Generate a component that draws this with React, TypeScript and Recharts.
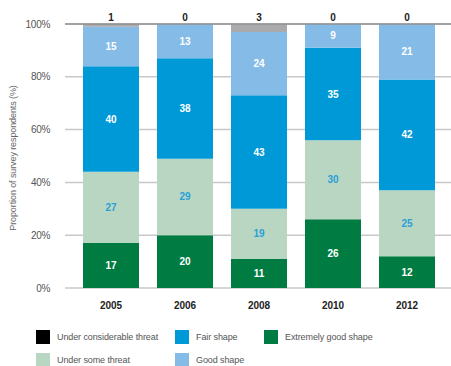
import React from "react";
import {
  BarChart,
  Bar,
  XAxis,
  YAxis,
  CartesianGrid,
  ReferenceLine,
  LabelList,
} from "recharts";

const years = ["2005", "2006", "2008", "2010", "2012"];
const extremelyGood = [17, 20, 11, 26, 12];
const someThreat = [27, 29, 19, 30, 25];
const fairShape = [40, 38, 43, 35, 42];
const goodShape = [15, 13, 24, 9, 21];
const considerableThreat = [1, 0, 3, 0, 0];
const yTicks = [0, 20, 40, 60, 80, 100];

const data = years.map((year, i) => ({
  year,
  extremelyGood: extremelyGood[i],
  someThreat: someThreat[i],
  fairShape: fairShape[i],
  goodShape: goodShape[i],
  considerableThreat: considerableThreat[i],
}));

const FONT = "'Liberation Sans', Arial, Helvetica, sans-serif";

const legendItems = [
  { label: "Under considerable threat", color: "#000000", left: 36, top: 330 },
  { label: "Fair shape", color: "#0099d8", left: 175, top: 330 },
  { label: "Extremely good shape", color: "#007c43", left: 264, top: 330 },
  { label: "Under some threat", color: "#b8d6c1", left: 36, top: 353 },
  { label: "Good shape", color: "#85bbe7", left: 175, top: 353 },
];

const segLabel = (fill: string) => ({
  fill,
  fontSize: 10,
  fontWeight: 700,
  fontFamily: FONT,
});

export default function App() {
  return (
    <div
      style={{
        position: "absolute",
        left: 0,
        top: 0,
        width: 451,
        height: 366,
        background: "#fff",
        overflow: "hidden",
        fontFamily: FONT,
      }}
    >
      <BarChart
        width={451}
        height={320}
        data={data}
        margin={{ top: 0, right: 0, bottom: 0, left: 0 }}
      >
        <CartesianGrid vertical={false} stroke="#c8c8c8" strokeWidth={1.5} />
        <XAxis
          dataKey="year"
          axisLine={false}
          tickLine={false}
          tickSize={0}
          tickMargin={14}
          height={32}
          padding={{ left: 9, right: 7 }}
          tick={{ fill: "#222", fontSize: 10, fontWeight: 700, fontFamily: FONT }}
        />
        {/* top axis carries the "under considerable threat" counts */}
        <XAxis
          xAxisId="top"
          orientation="top"
          dataKey="year"
          axisLine={false}
          tickLine={false}
          tickSize={0}
          tickMargin={3}
          height={24}
          padding={{ left: 9, right: 7 }}
          tickFormatter={(_v, i) => String(considerableThreat[i])}
          tick={{ fill: "#222", fontSize: 10, fontWeight: 700, fontFamily: FONT }}
        />
        <YAxis
          domain={[0, 100]}
          ticks={yTicks}
          width={65}
          axisLine={false}
          tickLine={false}
          tickSize={0}
          tickMargin={15}
          tickFormatter={(v) => `${v}%`}
          tick={{ fill: "#555", fontSize: 10, fontFamily: FONT, letterSpacing: -0.3 }}
        />
        <ReferenceLine y={100} stroke="#909090" strokeWidth={1.5} />
        <Bar dataKey="extremelyGood" stackId="a" fill="#007c43" barSize={56} isAnimationActive={false}>
          <LabelList dataKey="extremelyGood" position="center" style={segLabel("#ffffff")} />
        </Bar>
        <Bar dataKey="someThreat" stackId="a" fill="#b8d6c1" barSize={56} isAnimationActive={false}>
          <LabelList dataKey="someThreat" position="center" style={segLabel("#2a9fd8")} />
        </Bar>
        <Bar dataKey="fairShape" stackId="a" fill="#0099d8" barSize={56} isAnimationActive={false}>
          <LabelList dataKey="fairShape" position="center" style={segLabel("#ffffff")} />
        </Bar>
        <Bar dataKey="goodShape" stackId="a" fill="#85bbe7" barSize={56} isAnimationActive={false}>
          <LabelList dataKey="goodShape" position="center" style={segLabel("#ffffff")} />
        </Bar>
        <Bar dataKey="considerableThreat" stackId="a" fill="#aaaaac" barSize={56} isAnimationActive={false} />
      </BarChart>

      <div
        style={{
          position: "absolute",
          left: 13,
          top: 158,
          transform: "translate(-50%, -50%) rotate(-90deg)",
          whiteSpace: "nowrap",
          fontSize: 9,
          color: "#666",
          letterSpacing: -0.1,
        }}
      >
        Proportion of survey respondents (%)
      </div>

      {legendItems.map((item) => (
        <div
          key={item.label}
          style={{
            position: "absolute",
            left: item.left,
            top: item.top,
            display: "flex",
            alignItems: "center",
            height: 14,
          }}
        >
          <div style={{ width: 14, height: 14, background: item.color }} />
          <span
            style={{
              marginLeft: 7,
              fontSize: 9,
              color: "#555",
              letterSpacing: -0.1,
              whiteSpace: "nowrap",
            }}
          >
            {item.label}
          </span>
        </div>
      ))}
    </div>
  );
}
